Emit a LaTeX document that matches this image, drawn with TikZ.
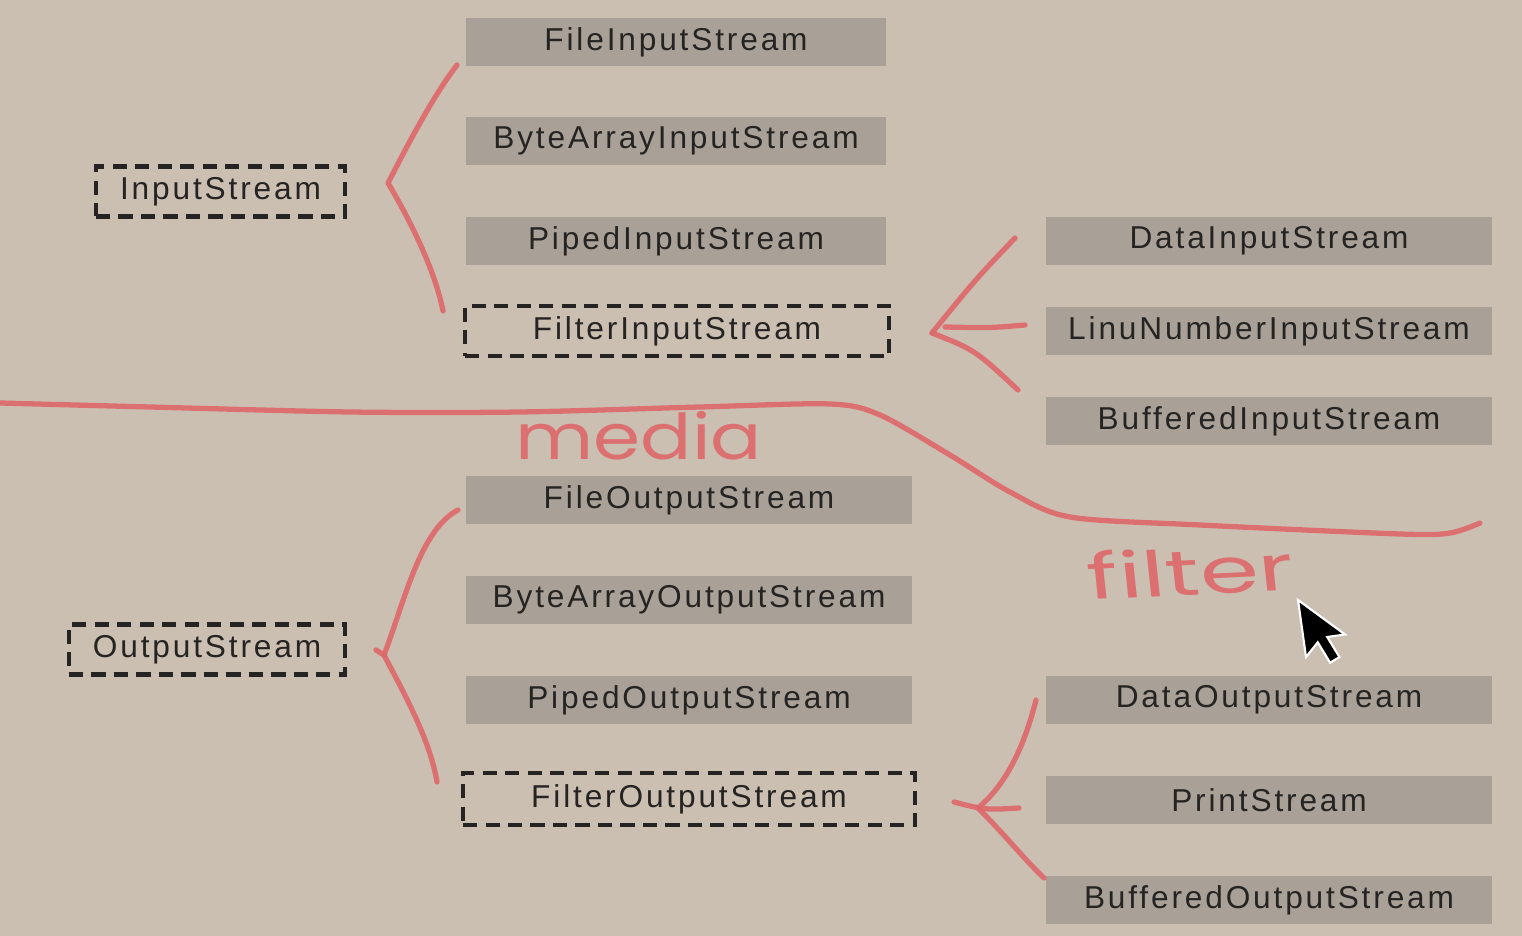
\documentclass[tikz,border=0pt]{standalone}
\usepackage{fontspec}
\setmainfont{Liberation Sans}[LetterSpace=9]
\newfontfamily\scribble{Poppins}
\usetikzlibrary{calc}
\definecolor{paper}{RGB}{203,191,178}
\definecolor{slab}{RGB}{169,161,151}
\definecolor{ink}{RGB}{38,36,34}
\definecolor{marker}{RGB}{222,104,106}
\tikzset{
  classbox/.style={fill=slab, text=ink, minimum height=0.48cm, inner sep=0pt, font=\fontsize{9}{11}\selectfont},
  abstractbox/.style={draw=ink, line width=1.4pt, dash pattern=on 4pt off 2.4pt, text=ink, minimum height=0.5cm, inner sep=0pt, font=\fontsize{9}{11}\selectfont},
  pen/.style={draw=marker, line width=1.5pt, line cap=round, line join=round, opacity=0.9},
  scrawl/.style={text=marker, opacity=0.9, inner sep=0pt, anchor=base, font=\scribble\fontsize{18}{18}\selectfont},
}

\begin{document}
\begin{tikzpicture}
		%%%%% START %%%%%
		
		\useasboundingbox[fill=paper] (0,0) rectangle (15.22,-9.36);
		
		% input side
		\node[abstractbox, minimum width=2.49cm] (is) at (2.205,-1.915) {InputStream};
		\node[classbox, minimum width=4.20cm] (fis) at (6.76,-0.42) {FileInputStream};
		\node[classbox, minimum width=4.20cm] (bais) at (6.76,-1.41) {ByteArrayInputStream};
		\node[classbox, minimum width=4.20cm] (pis) at (6.76,-2.41) {PipedInputStream};
		\node[abstractbox, minimum width=4.24cm] (filis) at (6.77,-3.31) {FilterInputStream};
		\node[classbox, minimum width=4.46cm] (dis) at (12.69,-2.41) {DataInputStream};
		\node[classbox, minimum width=4.46cm] (lnis) at (12.69,-3.31) {LinuNumberInputStream};
		\node[classbox, minimum width=4.46cm] (bis) at (12.69,-4.21) {BufferedInputStream};
		
		% output side
		\node[abstractbox, minimum width=2.76cm] (os) at (2.07,-6.495) {OutputStream};
		\node[classbox, minimum width=4.46cm] (fos) at (6.89,-5.00) {FileOutputStream};
		\node[classbox, minimum width=4.46cm] (baos) at (6.89,-6.00) {ByteArrayOutputStream};
		\node[classbox, minimum width=4.46cm] (pos) at (6.89,-7.00) {PipedOutputStream};
		\node[abstractbox, minimum width=4.52cm, minimum height=0.52cm] (filos) at (6.89,-7.99) {FilterOutputStream};
		\node[classbox, minimum width=4.46cm] (dos) at (12.69,-7.00) {DataOutputStream};
		\node[classbox, minimum width=4.46cm] (ps) at (12.69,-8.00) {PrintStream};
		\node[classbox, minimum width=4.46cm] (bos) at (12.69,-9.00) {BufferedOutputStream};
		
		% marker strokes
		\coordinate (isTip) at (3.88,-1.83);
		\coordinate (isTop) at (4.57,-0.65);
		\coordinate (isBot) at (4.43,-3.11);
		\draw[pen] (isTop) .. controls (4.30,-1.00) and (4.00,-1.60) .. (isTip) .. controls (4.10,-2.20) and (4.35,-2.70) .. (isBot);
		
		\coordinate (filisTip) at (9.32,-3.33);
		\coordinate (disEnd) at (10.15,-2.38);
		\coordinate (lnisEnd) at (10.25,-3.25);
		\coordinate (bisEnd) at (10.18,-3.90);
		\draw[pen] (disEnd) .. controls (9.75,-2.80) .. (filisTip);
		\draw[pen] (lnisEnd) .. controls (9.90,-3.28) .. (9.45,-3.27);
		\draw[pen] (filisTip) .. controls (9.75,-3.50) .. (bisEnd);
		
		\coordinate (osTip) at (3.84,-6.55);
		\coordinate (osTop) at (4.58,-5.10);
		\coordinate (osBot) at (4.37,-7.82);
		\draw[pen] (osTop) .. controls (4.20,-5.30) and (4.05,-6.00) .. (osTip) .. controls (4.05,-6.95) and (4.30,-7.40) .. (osBot);
		\draw[pen] (3.76,-6.50) -- (osTip);
		
		\coordinate (filosTip) at (9.78,-8.08);
		\coordinate (dosEnd) at (10.36,-7.00);
		\coordinate (bosEnd) at (10.44,-8.78);
		\draw[pen] (dosEnd) .. controls (10.22,-7.55) and (10.02,-7.88) .. (filosTip);
		\draw[pen] (9.54,-8.02) .. controls (9.85,-8.10) .. (10.19,-8.08);
		\draw[pen] (filosTip) .. controls (10.05,-8.35) and (10.25,-8.60) .. (bosEnd);
		
		\draw[pen] plot[smooth] coordinates {(0,-4.03) (1.5,-4.07) (3.5,-4.12) (5.2,-4.12) (7.0,-4.07) (8.3,-4.04) (8.8,-4.15) (9.5,-4.55) (10.1,-4.92) (10.7,-5.17) (12.0,-5.25) (14.0,-5.34) (14.5,-5.33) (14.8,-5.23)};
		
		\node[scrawl, xscale=1.2] (mediaTag) at (6.39,-4.60) {media};
		\node[scrawl, xscale=1.5, rotate=4] (filterTag) at (11.93,-5.95) {filter};
		
		% pointer
		\filldraw[fill=black, draw=white, line width=0.6pt, shift={(12.98,-6.00)}, scale=0.036, rotate=8] (0,0) -- (0,-16) -- (3.8,-12.4) -- (6.4,-18.5) -- (9.2,-17.3) -- (6.6,-11.3) -- (11.6,-11.3) -- cycle;
		
		%%%%% END %%%%%
	\end{tikzpicture}
\end{document}
